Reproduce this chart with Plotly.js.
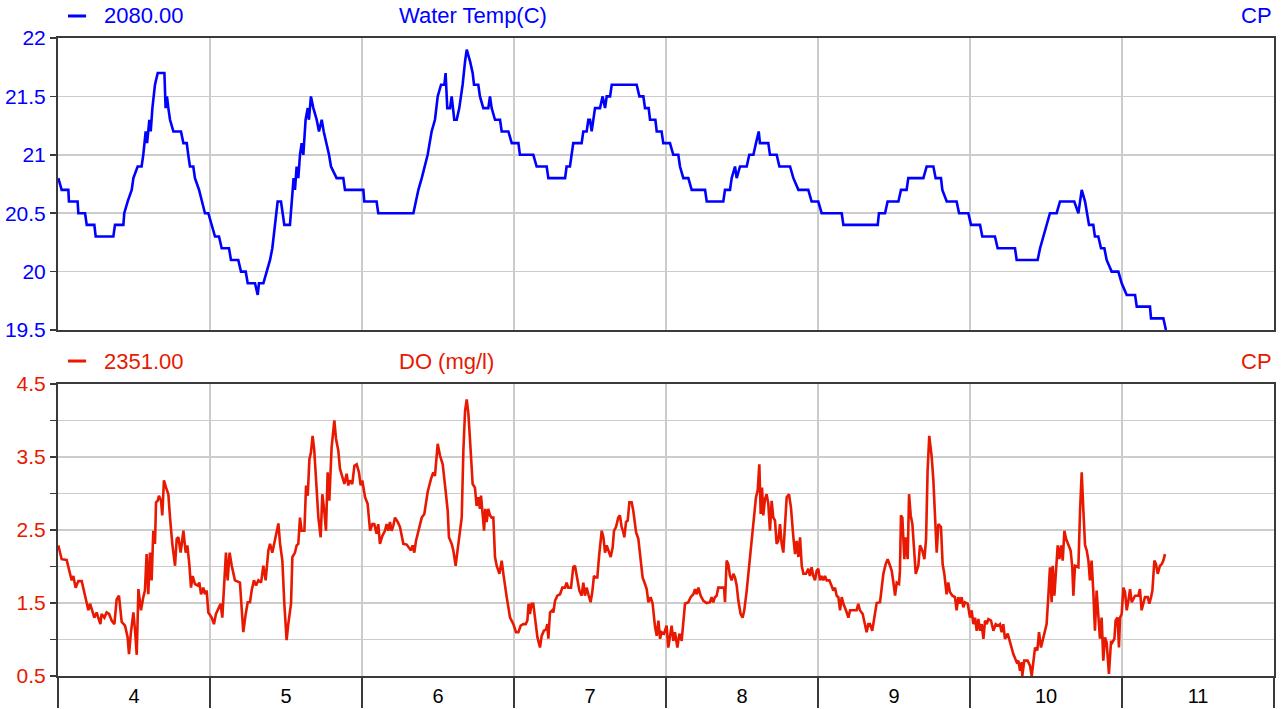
<!DOCTYPE html>
<html>
<head>
<meta charset="utf-8">
<script src="https://cdn.plot.ly/plotly-3.0.1.min.js"></script>
<style>html,body{margin:0;padding:0;background:#fff;}#chart{width:1287px;height:709px;}</style>
</head>
<body>
<div id="chart"></div>
<script>
// Day of month (fractional) and water temperature (C)
const tempDays = [4.002,4.024,4.068,4.072,4.129,4.134,4.178,4.189,4.239,4.248,4.364,4.375,4.430,4.436,4.458,4.485,4.496,4.524,4.550,4.561,4.577,4.586,4.601,4.610,4.621,4.638,4.656,4.700,4.708,4.717,4.726,4.737,4.759,4.809,4.825,4.847,4.857,4.868,4.890,4.901,4.928,4.950,4.967,4.989,
5.011,5.033,5.059,5.077,5.125,5.138,5.186,5.204,5.235,5.248,5.296,5.314,5.322,5.351,5.373,5.395,5.410,5.428,5.445,5.467,5.478,5.489,5.526,5.542,5.550,5.559,5.570,5.581,5.592,5.603,5.614,5.629,5.643,5.651,5.664,5.680,5.702,5.717,5.735,5.748,5.768,5.783,5.796,5.833,5.877,5.888,
6.009,6.015,6.096,6.107,6.338,6.353,6.371,6.393,6.410,6.432,6.458,6.480,6.498,6.520,6.542,6.550,6.561,6.579,6.590,6.607,6.623,6.640,6.651,6.662,6.678,6.689,6.711,6.728,6.737,6.765,6.776,6.798,6.831,6.842,6.853,6.875,6.908,6.919,6.963,6.985,
7.029,7.039,7.127,7.149,7.215,7.226,7.336,7.346,7.368,7.379,7.390,7.445,7.456,7.478,7.489,7.500,7.511,7.533,7.566,7.583,7.599,7.610,7.632,7.643,7.807,7.825,7.851,7.862,7.886,7.895,7.930,7.939,7.971,7.982,
8.026,8.048,8.081,8.092,8.114,8.147,8.169,8.257,8.268,8.377,8.388,8.421,8.432,8.454,8.465,8.487,8.531,8.548,8.575,8.592,8.610,8.618,8.673,8.684,8.728,8.746,8.816,8.838,8.871,8.936,8.958,
9.002,9.024,9.156,9.167,9.393,9.401,9.441,9.458,9.529,9.546,9.583,9.594,9.693,9.715,9.759,9.774,9.809,9.818,9.847,9.912,9.928,9.989,
10.007,10.066,10.081,10.164,10.182,10.296,10.307,10.445,10.461,10.482,10.504,10.526,10.570,10.592,10.686,10.713,10.735,10.757,10.783,10.811,10.822,10.844,10.862,10.884,10.899,10.932,10.976,10.998,
11.031,11.086,11.097,11.184,11.191,11.272,11.289];
const tempValues = [20.8,20.7,20.7,20.6,20.6,20.5,20.5,20.4,20.4,20.3,20.3,20.4,20.4,20.5,20.6,20.7,20.8,20.9,20.9,21.0,21.2,21.1,21.3,21.2,21.4,21.6,21.7,21.7,21.4,21.5,21.4,21.3,21.2,21.2,21.1,21.1,21.0,20.9,20.9,20.8,20.7,20.6,20.5,20.5,
20.4,20.3,20.3,20.2,20.2,20.1,20.1,20.0,20.0,19.9,19.9,19.8,19.9,19.9,20.0,20.1,20.2,20.4,20.6,20.6,20.5,20.4,20.4,20.7,20.8,20.7,20.9,20.8,21.0,21.1,21.0,21.3,21.4,21.3,21.5,21.4,21.3,21.2,21.3,21.2,21.1,21.0,20.9,20.8,20.8,20.7,
20.7,20.6,20.6,20.5,20.5,20.6,20.7,20.8,20.9,21.0,21.2,21.3,21.5,21.6,21.6,21.7,21.4,21.4,21.5,21.3,21.3,21.4,21.5,21.6,21.8,21.9,21.8,21.7,21.6,21.6,21.5,21.4,21.4,21.5,21.4,21.3,21.3,21.2,21.2,21.1,
21.1,21.0,21.0,20.9,20.9,20.8,20.8,20.9,20.9,21.0,21.1,21.1,21.2,21.2,21.3,21.3,21.2,21.4,21.4,21.5,21.4,21.5,21.5,21.6,21.6,21.5,21.5,21.4,21.4,21.3,21.3,21.2,21.2,21.1,
21.1,21.0,21.0,20.9,20.8,20.8,20.7,20.7,20.6,20.6,20.7,20.7,20.8,20.9,20.8,20.9,20.9,21.0,21.0,21.1,21.2,21.1,21.1,21.0,21.0,20.9,20.9,20.8,20.7,20.7,20.6,
20.6,20.5,20.5,20.4,20.4,20.5,20.5,20.6,20.6,20.7,20.7,20.8,20.8,20.9,20.9,20.8,20.8,20.7,20.6,20.6,20.5,20.5,
20.4,20.4,20.3,20.3,20.2,20.2,20.1,20.1,20.2,20.3,20.4,20.5,20.5,20.6,20.6,20.5,20.7,20.6,20.4,20.4,20.3,20.3,20.2,20.2,20.1,20.0,20.0,19.9,
19.8,19.8,19.7,19.7,19.6,19.6,19.5];

// Day of month (fractional) and dissolved oxygen (mg/l)
const doDays = [4.002,4.024,4.057,4.079,4.090,4.101,4.116,4.134,4.156,4.178,4.200,4.211,4.226,4.239,4.254,4.265,4.279,4.287,4.305,4.320,4.336,4.353,4.371,4.386,4.401,4.419,4.441,4.458,4.467,4.480,4.496,4.507,4.518,4.529,4.546,4.561,4.572,4.583,4.594,4.605,4.616,4.627,4.638,4.645,4.656,4.664,4.678,4.686,4.697,4.711,4.726,4.737,4.752,4.770,4.781,4.792,4.807,4.825,4.840,4.851,4.864,4.875,4.886,4.901,4.919,4.930,4.941,4.956,4.967,4.978,4.989,
5.011,5.026,5.039,5.055,5.070,5.081,5.094,5.105,5.116,5.129,5.143,5.164,5.197,5.208,5.219,5.235,5.248,5.263,5.274,5.289,5.303,5.318,5.336,5.351,5.366,5.384,5.395,5.410,5.428,5.439,5.450,5.461,5.476,5.489,5.504,5.515,5.533,5.542,5.559,5.570,5.581,5.592,5.603,5.621,5.632,5.643,5.654,5.664,5.675,5.686,5.702,5.713,5.728,5.739,5.752,5.763,5.774,5.785,5.800,5.818,5.829,5.844,5.855,5.871,5.884,5.899,5.910,5.921,5.936,5.950,5.965,5.980,5.991,
6.002,6.020,6.037,6.053,6.068,6.081,6.096,6.107,6.118,6.134,6.151,6.162,6.173,6.184,6.195,6.206,6.217,6.235,6.250,6.272,6.294,6.309,6.322,6.333,6.344,6.355,6.371,6.393,6.410,6.432,6.454,6.469,6.480,6.498,6.513,6.531,6.550,6.564,6.572,6.590,6.601,6.616,6.634,6.656,6.667,6.678,6.689,6.700,6.711,6.728,6.743,6.754,6.765,6.776,6.783,6.792,6.803,6.811,6.820,6.831,6.842,6.853,6.864,6.875,6.886,6.904,6.919,6.930,6.941,6.952,6.974,6.996,
7.013,7.029,7.044,7.061,7.077,7.088,7.096,7.105,7.116,7.127,7.138,7.154,7.171,7.182,7.197,7.211,7.219,7.226,7.237,7.252,7.259,7.270,7.285,7.303,7.318,7.336,7.346,7.357,7.375,7.390,7.401,7.412,7.430,7.445,7.456,7.467,7.478,7.489,7.504,7.515,7.526,7.539,7.548,7.561,7.577,7.588,7.599,7.610,7.621,7.636,7.649,7.658,7.671,7.686,7.697,7.708,7.719,7.726,7.737,7.748,7.759,7.774,7.785,7.803,7.818,7.829,7.846,7.862,7.873,7.884,7.899,7.912,7.928,7.939,7.950,7.961,7.971,7.987,
8.004,8.015,8.026,8.037,8.048,8.059,8.075,8.088,8.103,8.114,8.125,8.147,8.162,8.180,8.191,8.202,8.213,8.228,8.246,8.268,8.289,8.300,8.311,8.322,8.333,8.344,8.366,8.382,8.388,8.399,8.410,8.421,8.432,8.443,8.454,8.465,8.476,8.491,8.504,8.515,8.531,8.548,8.564,8.579,8.592,8.603,8.614,8.623,8.632,8.640,8.651,8.662,8.673,8.684,8.695,8.706,8.717,8.728,8.739,8.750,8.761,8.772,8.783,8.794,8.809,8.822,8.838,8.849,8.860,8.871,8.882,8.893,8.904,8.921,8.936,8.947,8.958,8.969,8.980,8.991,
9.002,9.013,9.024,9.035,9.046,9.057,9.075,9.090,9.101,9.112,9.123,9.134,9.145,9.156,9.167,9.184,9.200,9.211,9.232,9.254,9.265,9.276,9.294,9.309,9.320,9.331,9.342,9.357,9.375,9.386,9.408,9.419,9.430,9.445,9.458,9.474,9.485,9.496,9.507,9.518,9.533,9.539,9.546,9.555,9.568,9.577,9.590,9.599,9.610,9.621,9.632,9.643,9.660,9.671,9.686,9.700,9.711,9.721,9.732,9.748,9.759,9.770,9.781,9.792,9.809,9.820,9.831,9.846,9.857,9.868,9.884,9.901,9.912,9.923,9.934,9.945,9.956,9.967,9.985,
10.000,10.011,10.022,10.033,10.044,10.055,10.066,10.077,10.088,10.099,10.110,10.121,10.138,10.154,10.169,10.186,10.197,10.208,10.219,10.230,10.248,10.263,10.285,10.307,10.318,10.329,10.340,10.344,10.357,10.379,10.395,10.406,10.417,10.428,10.443,10.454,10.467,10.482,10.493,10.504,10.515,10.526,10.537,10.544,10.555,10.566,10.577,10.588,10.599,10.610,10.621,10.632,10.647,10.662,10.673,10.680,10.691,10.713,10.724,10.735,10.746,10.757,10.768,10.779,10.789,10.800,10.811,10.822,10.833,10.844,10.855,10.866,10.877,10.888,10.899,10.914,10.928,10.936,10.950,10.958,10.971,10.980,10.987,10.998,
11.009,11.020,11.031,11.042,11.053,11.064,11.086,11.107,11.118,11.129,11.140,11.151,11.169,11.180,11.191,11.200,11.213,11.224,11.235,11.250,11.261,11.272,11.283];
const doValues = [2.29,2.10,2.09,1.90,1.81,1.87,1.71,1.80,1.80,1.60,1.40,1.49,1.37,1.30,1.37,1.30,1.21,1.35,1.30,1.37,1.35,1.26,1.21,1.55,1.60,1.24,1.19,1.03,0.80,1.10,1.37,1.12,0.79,1.69,1.40,1.58,1.67,2.17,1.62,2.19,1.81,2.49,2.31,2.88,2.90,2.97,2.90,2.70,3.18,3.08,2.99,2.67,2.31,2.01,2.38,2.40,2.19,2.49,2.19,2.29,2.03,1.71,1.87,1.76,1.74,1.78,1.62,1.71,1.62,1.67,1.37,
1.30,1.21,1.35,1.42,1.49,1.30,1.81,2.19,1.81,2.19,2.01,1.81,1.78,1.40,1.10,1.35,1.51,1.51,1.67,1.81,1.74,1.81,1.78,2.01,1.81,2.22,2.31,2.19,2.38,2.45,2.59,2.31,2.08,1.49,0.99,1.21,1.49,2.13,2.19,2.29,2.31,2.67,2.49,2.49,3.11,2.97,3.47,3.56,3.79,3.59,3.04,2.67,2.40,2.99,2.76,2.49,3.29,2.90,3.63,4.00,3.75,3.59,3.34,3.20,3.13,3.27,3.11,3.18,3.13,3.38,3.40,3.29,3.11,
3.18,2.95,2.86,2.49,2.58,2.58,2.45,2.58,2.31,2.42,2.49,2.58,2.49,2.61,2.49,2.56,2.67,2.61,2.54,2.31,2.30,2.26,2.22,2.29,2.19,2.35,2.49,2.67,2.72,3.02,3.20,3.29,3.24,3.68,3.52,3.40,3.04,2.76,2.40,2.31,2.22,2.01,2.31,2.67,3.59,4.13,4.29,4.09,3.72,3.13,3.08,2.83,2.95,2.79,2.97,2.70,2.49,2.79,2.61,2.79,2.70,2.67,2.67,2.13,2.01,1.90,2.08,1.90,1.71,1.58,1.30,1.21,
1.10,1.10,1.19,1.21,1.21,1.26,1.49,1.35,1.49,1.49,1.30,1.03,0.89,1.05,1.12,1.14,1.21,1.01,1.37,1.40,1.37,1.53,1.60,1.62,1.71,1.71,1.78,1.71,1.71,1.99,2.01,1.90,1.67,1.60,1.78,1.60,1.71,1.62,1.51,1.65,1.87,1.85,1.85,2.17,2.49,2.40,2.19,2.29,2.22,2.13,2.26,2.49,2.54,2.67,2.70,2.54,2.47,2.40,2.61,2.63,2.88,2.88,2.76,2.47,2.38,2.17,1.85,1.76,1.69,1.51,1.58,1.49,1.17,1.05,1.26,1.01,1.10,1.08,
1.19,0.89,1.05,1.19,0.98,1.10,0.89,1.08,0.98,1.30,1.49,1.51,1.58,1.62,1.69,1.62,1.71,1.60,1.53,1.50,1.51,1.58,1.51,1.58,1.60,1.71,1.71,1.71,1.51,2.08,2.03,1.87,1.81,1.90,1.85,1.74,1.53,1.35,1.30,1.40,1.67,2.03,2.35,2.67,2.95,3.04,3.40,2.72,3.08,2.70,2.92,2.99,2.86,2.49,2.90,2.67,2.63,2.31,2.35,2.58,2.31,2.19,2.67,2.95,2.99,2.81,2.40,2.17,2.35,2.13,2.40,2.01,1.90,1.90,1.97,1.87,1.99,1.87,1.81,1.94,
1.97,1.81,1.87,1.81,1.87,1.81,1.81,1.74,1.67,1.71,1.60,1.58,1.40,1.58,1.49,1.40,1.30,1.40,1.40,1.40,1.49,1.40,1.35,1.21,1.10,1.21,1.21,1.12,1.40,1.50,1.51,1.67,1.90,2.03,2.10,2.01,1.94,1.78,1.60,1.78,1.76,1.94,2.70,2.67,2.10,2.40,2.10,2.99,2.70,2.58,2.17,1.90,2.01,2.29,2.22,2.10,2.38,3.31,3.79,3.50,3.18,2.58,2.19,2.58,2.54,2.03,1.90,1.62,1.78,1.65,1.60,1.58,1.40,1.58,1.49,1.58,1.44,1.51,1.49,
1.30,1.40,1.21,1.30,1.12,1.28,1.12,1.21,1.01,1.26,1.21,1.28,1.26,1.12,1.21,1.19,1.21,1.10,1.21,1.01,1.08,0.98,0.80,0.69,0.71,0.57,0.69,0.50,0.71,0.71,0.64,0.50,0.71,0.89,0.85,1.10,0.89,1.01,1.10,1.21,1.58,1.99,1.51,2.01,1.60,1.99,2.29,2.10,2.29,2.08,2.49,2.38,2.31,2.22,1.99,1.60,2.01,1.99,2.76,3.29,2.76,2.29,2.22,2.08,1.81,2.08,1.67,1.12,1.67,1.28,1.01,1.30,0.71,1.03,0.96,0.53,0.98,0.96,1.01,1.26,1.30,0.89,1.30,1.35,
1.71,1.65,1.40,1.53,1.69,1.51,1.60,1.60,1.69,1.40,1.49,1.58,1.58,1.49,1.58,1.67,2.08,2.03,1.90,2.01,2.03,2.08,2.17];

const dayBoundaries = [4,5,6,7,8,9,10,11,12];
const dayCentres = [4.5,5.5,6.5,7.5,8.5,9.5,10.5,11.5];
const dayLabels = ['4','5','6','7','8','9','10','11'];
const tempTicks = [19.5,20,20.5,21,21.5,22];
const doTicks = [0.5,1,1.5,2,2.5,3,3.5,4,4.5];
const doTickText = ['0.5','','1.5','','2.5','','3.5','','4.5'];

const BLUE = 'rgb(0,0,255)';
const RED = 'rgb(232,25,0)';
const FRAME = '#3a3a3a';
const GRID = '#cccccc';
const FONT = 'Liberation Sans, Arial, sans-serif';

const traces = [
  {x: tempDays, y: tempValues, type: 'scatter', mode: 'lines', xaxis: 'x', yaxis: 'y',
   line: {color: BLUE, width: 2.6}, name: '2080.00', showlegend: false},
  {x: doDays, y: doValues, type: 'scatter', mode: 'lines', xaxis: 'x2', yaxis: 'y2',
   line: {color: RED, width: 2.6}, name: '2351.00', showlegend: false}
];

const commonX = {
  range: [4, 12], zeroline: false, showline: true, mirror: true,
  linecolor: FRAME, linewidth: 2, fixedrange: true
};
const layout = {
  width: 1287, height: 709,
  margin: {l: 58, r: 13, t: 38, b: 33, pad: 0},
  paper_bgcolor: '#ffffff', plot_bgcolor: '#ffffff',
  font: {family: FONT, size: 20, color: '#000'},
  showlegend: false,
  xaxis: Object.assign({}, commonX, {
    anchor: 'y', tickmode: 'array', tickvals: dayBoundaries, ticks: '',
    showticklabels: false, showgrid: true, gridcolor: GRID, gridwidth: 1.5
  }),
  yaxis: {
    domain: [0.5423, 1], anchor: 'x', range: [19.5, 22], tickmode: 'array', tickvals: tempTicks,
    ticks: 'outside', ticklen: 6, tickwidth: 1.5, tickcolor: FRAME,
    tickfont: {family: FONT, size: 21, color: BLUE},
    showgrid: true, gridcolor: GRID, gridwidth: 1.5, zeroline: false,
    showline: true, mirror: true, linecolor: FRAME, linewidth: 2, fixedrange: true
  },
  xaxis2: Object.assign({}, commonX, {
    anchor: 'y2', tickmode: 'array', tickvals: dayCentres, ticktext: dayLabels, ticks: '',
    showgrid: false, tickfont: {family: FONT, size: 20, color: '#000'}, ticklabelstandoff: 1,
    minor: {tickmode: 'array', tickvals: dayBoundaries, ticks: 'outside', ticklen: 30,
            tickwidth: 2, tickcolor: FRAME, showgrid: true, gridcolor: GRID, gridwidth: 1.5}
  }),
  yaxis2: {
    domain: [0, 0.4577], anchor: 'x2', range: [0.5, 4.5], tickmode: 'array',
    tickvals: doTicks, ticktext: doTickText,
    ticks: 'outside', ticklen: 6, tickwidth: 1.5, tickcolor: FRAME,
    tickfont: {family: FONT, size: 21, color: RED},
    showgrid: true, gridcolor: GRID, gridwidth: 1.5, zeroline: false,
    showline: true, mirror: true, linecolor: FRAME, linewidth: 2, fixedrange: true
  },
  shapes: [
    {type: 'line', xref: 'paper', yref: 'paper', x0: 0.0082, x1: 0.0231, y0: 1.0345, y1: 1.0345,
     line: {color: BLUE, width: 3}},
    {type: 'line', xref: 'paper', yref: 'paper', x0: 0.0082, x1: 0.0231, y0: 0.4937, y1: 0.4937,
     line: {color: RED, width: 3}}
  ],
  annotations: [
    {text: '2080.00', xref: 'paper', yref: 'paper', x: 0.0362, y: 1.0345, xanchor: 'left', yanchor: 'middle',
     showarrow: false, font: {family: FONT, size: 22, color: BLUE}},
    {text: 'Water Temp(C)', xref: 'paper', yref: 'paper', x: 0.2788, y: 1.0345, xanchor: 'left', yanchor: 'middle',
     showarrow: false, font: {family: FONT, size: 22, color: BLUE}},
    {text: 'CP', xref: 'paper', yref: 'paper', x: 1, y: 1.0345, xanchor: 'right', yanchor: 'middle',
     showarrow: false, font: {family: FONT, size: 22, color: BLUE}},
    {text: '2351.00', xref: 'paper', yref: 'paper', x: 0.0362, y: 0.4937, xanchor: 'left', yanchor: 'middle',
     showarrow: false, font: {family: FONT, size: 22, color: RED}},
    {text: 'DO (mg/l)', xref: 'paper', yref: 'paper', x: 0.2788, y: 0.4937, xanchor: 'left', yanchor: 'middle',
     showarrow: false, font: {family: FONT, size: 22, color: RED}},
    {text: 'CP', xref: 'paper', yref: 'paper', x: 1, y: 0.4937, xanchor: 'right', yanchor: 'middle',
     showarrow: false, font: {family: FONT, size: 22, color: RED}}
  ]
};

Plotly.newPlot('chart', traces, layout, {displayModeBar: false, staticPlot: true});
</script>
</body>
</html>
